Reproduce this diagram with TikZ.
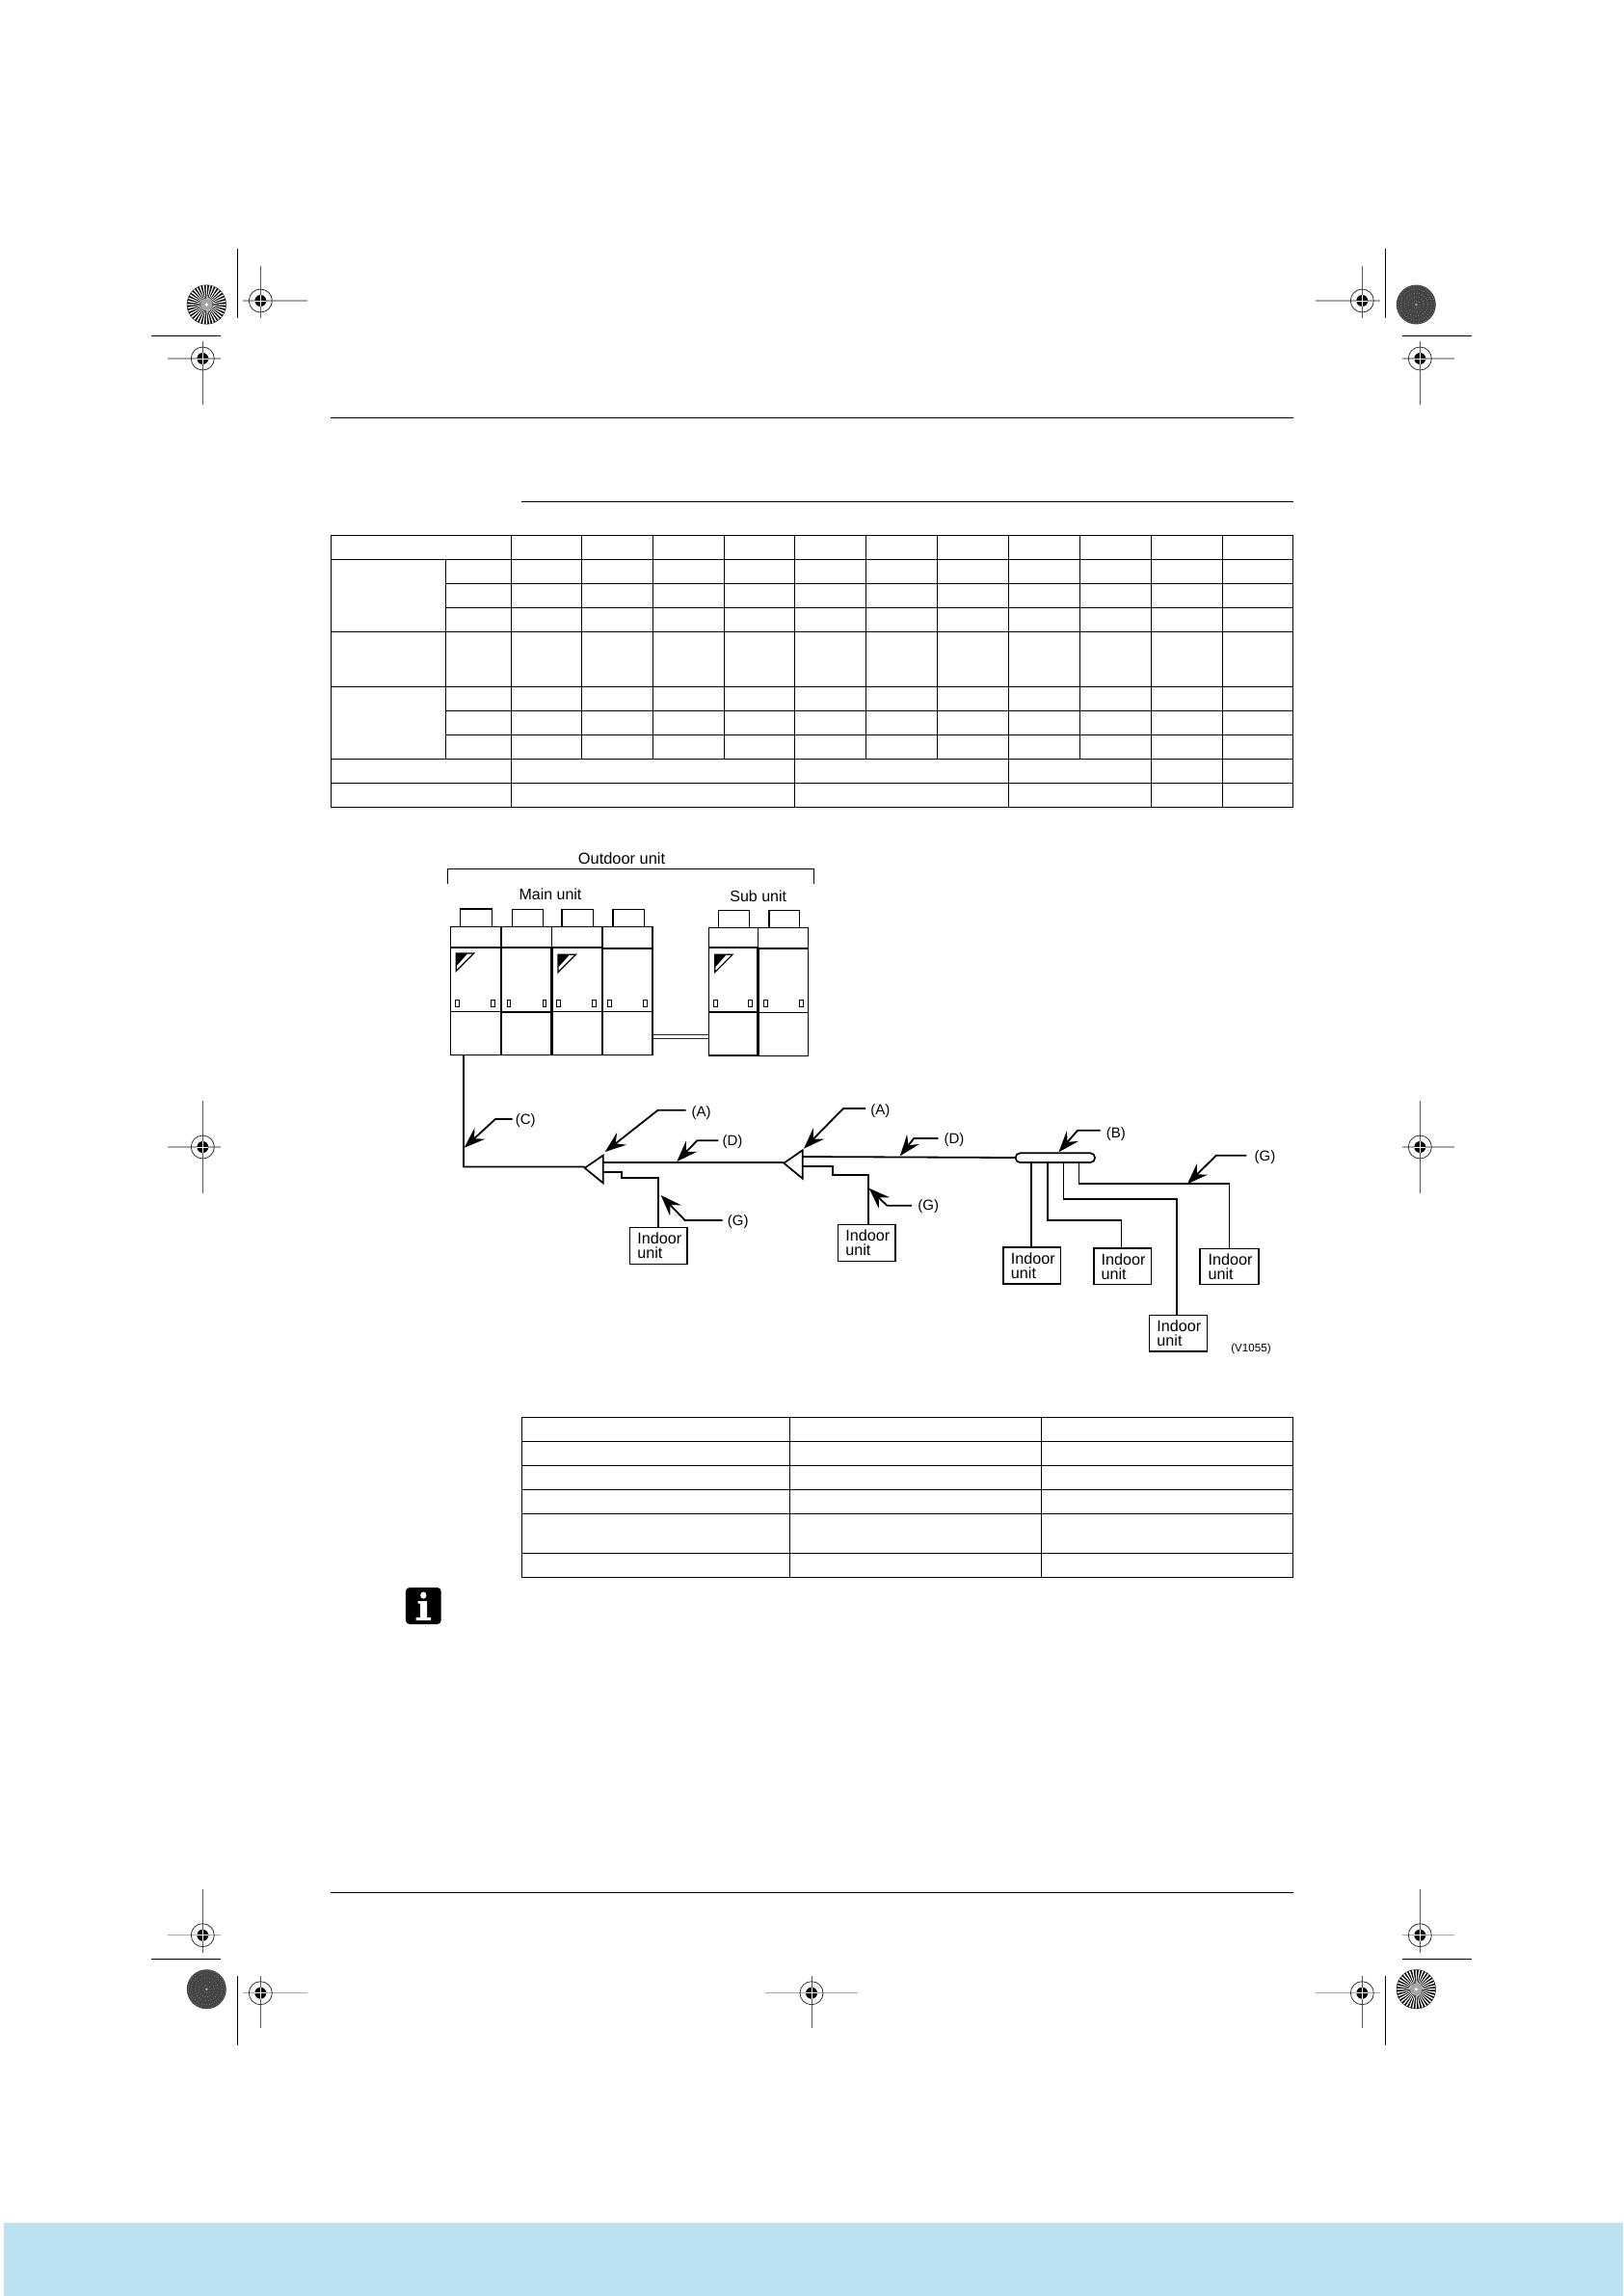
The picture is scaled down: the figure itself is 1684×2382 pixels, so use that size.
\documentclass[tikz,border=0pt]{standalone}
\usepackage{fontspec}
\setmainfont{Liberation Sans}
\usetikzlibrary{arrows.meta,calc}
\definecolor{bandblue}{HTML}{BAE3EF}
\definecolor{hairgray}{HTML}{A8A8A8}
\definecolor{vertgray}{HTML}{585858}
\definecolor{rosegray}{HTML}{444444}
\tikzset{
  rule/.style={line width=1.1pt,black},
  grid/.style={line width=1.1pt,black},
  cab/.style={line width=1.3pt,black,fill=white},
  cabthick/.style={line width=2.8pt,black},
  pipe/.style={line width=1.8pt,black,line join=miter},
  leader/.style={line width=1.8pt,black,-{Stealth[length=22pt,width=16pt,inset=8pt]}},
  iubox/.style={draw=black,line width=1.5pt,fill=white,inner sep=0pt},
  callout/.style={font=\fontsize{15}{15}\selectfont,inner sep=0pt},
  head/.style={font=\fontsize{16.4}{16}\selectfont,inner sep=0pt},
}
\newcommand{\iutxt}[1]{\hspace*{2pt}\raisebox{#1}{\parbox{46pt}{\raggedright\fontsize{16.2}{15}\selectfont Indoor\\unit}}}
% registration mark: centre, horizontal extent, vertical extent
\newcommand{\regmark}[6]{%
  \draw[hairgray,line width=1.1pt] (#3,#2) -- (#4,#2);
  \draw[vertgray,line width=1pt] (#1,#5) -- (#1,#6);
  \draw[black!80,line width=.8pt] (#1,#2) circle[radius=12];
  \fill[black] (#1,#2) circle[radius=6];
  \draw[white,line width=.9pt] (#1-6,#2) -- (#1+6,#2) (#1,#2-6) -- (#1,#2+6);
}
\newcommand{\rosestripe}[2]{%
  \fill[black] (#1,#2) circle[radius=20.5];
  \foreach \a in {0,10,...,350}
    \fill[white] (#1,#2) -- ($(#1,#2)+(\a-2.2:20)$) -- ($(#1,#2)+(\a+2.2:20)$) -- cycle;
  \fill[gray!70] (#1,#2) circle[radius=6];
  \fill[white] (#1,#2) circle[radius=1.8];
}
\newcommand{\rosedark}[2]{%
  \fill[rosegray] (#1,#2) circle[radius=20.5];
  \foreach \r in {4,8,12,16,19}
    \draw[gray!90,line width=.7pt,dotted] (#1,#2) circle[radius=\r];
  \fill[gray!75] (#1,#2) circle[radius=1.5];
}
\begin{document}
\begin{tikzpicture}[x=1pt,y=-1pt]
\useasboundingbox (0,0) rectangle (1684,2382);
\fill[white] (0,0) rectangle (1684,2382);
\fill[bandblue] (4,2306) rectangle (1684,2382);

% printer's marks
\rosestripe{214.3}{316}
\rosedark{1469.3}{316}
\rosedark{214.3}{2063.7}
\rosestripe{1469.3}{2063.7}
\regmark{270.3}{312}{252}{319}{276}{330}
\regmark{210.3}{372}{174}{229}{354}{420}
\regmark{1413.3}{312}{1365}{1432}{276}{330}
\regmark{1473.3}{372}{1455}{1509}{354}{420}
\regmark{210.3}{1190}{174}{229}{1142}{1238}
\regmark{1473.3}{1190}{1455}{1509}{1142}{1238}
\regmark{210.3}{2007.7}{174}{229}{1960}{2026}
\regmark{270.3}{2067.7}{252}{319}{2050}{2104}
\regmark{842}{2067.7}{794}{890}{2050}{2104}
\regmark{1473.3}{2007.7}{1455}{1509}{1960}{2026}
\regmark{1413.3}{2067.7}{1365}{1432}{2050}{2104}
\draw[rule] (246.5,258) -- (246.5,330);
\draw[rule] (157,348.5) -- (229,348.5);
\draw[rule] (1437.5,258) -- (1437.5,330);
\draw[rule] (1455,348.5) -- (1527,348.5);
\draw[rule] (157,2032.5) -- (229,2032.5);
\draw[rule] (246.5,2050) -- (246.5,2122);
\draw[rule] (1455,2032.5) -- (1527,2032.5);
\draw[rule] (1437.5,2050) -- (1437.5,2122);

% page rules
\draw[rule] (343.3,433.5) -- (1341.5,433.5);
\draw[rule] (541.3,520.5) -- (1341.5,520.5);
\draw[rule] (343.3,1963.5) -- (1341.5,1963.5);

% first table
\draw[grid] (343.5,555.5) rectangle (1341.5,837.5);
\foreach \y in {580.5,655.5,712.5,787.5,812.5} \draw[grid] (343.5,\y) -- (1341.5,\y);
\foreach \y in {605.5,630.5,737.5,762.5} \draw[grid] (462.5,\y) -- (1341.5,\y);
\draw[grid] (462.5,580.5) -- (462.5,787.5);
\draw[grid] (530.5,555.5) -- (530.5,837.5);
\foreach \x in {603.5,677.5,751.5,898.5,972.5,1120.5} \draw[grid] (\x,555.5) -- (\x,787.5);
\foreach \x in {824.5,1046.5,1194.5,1268.5} \draw[grid] (\x,555.5) -- (\x,837.5);

% second table
\draw[grid] (541.5,1470.5) rectangle (1341.5,1636.5);
\foreach \y in {1495.5,1520.5,1545.5,1570.5,1611.5} \draw[grid] (541.5,\y) -- (1341.5,\y);
\foreach \x in {819.5,1080.5} \draw[grid] (\x,1470.5) -- (\x,1636.5);

% info icon
\fill[black,rounded corners=4pt] (420.9,1647) rectangle (457.7,1685);
\fill[white] (439.3,1655) circle[x radius=3.2,y radius=3.6];
\fill[white] (433.5,1661) -- (443,1661) -- (443,1678) -- (447,1678) -- (447,1681) -- (431.5,1681) -- (431.5,1678) -- (436,1678) -- (436,1663.5) -- (433.5,1663.5) -- cycle;

% titles
\draw[line width=1.2pt] (464.3,917) -- (464.3,901.7) -- (844.3,901.7) -- (844.3,917);
\node[head] (tOut) at (645,890.7) {Outdoor unit};
\node[head,font=\fontsize{16}{16}\selectfont] (tMain) at (571,928) {Main unit};
\node[head,font=\fontsize{16}{16}\selectfont] (tSub) at (786.7,930) {Sub unit};

% outdoor cabinets, measured on a 3x grid
\begin{scope}[shift={(440,870)},x=.33333pt,y=-.33333pt]
  \foreach \xa/\xb/\ya/\yb/\yc/\yd/\bl/\br/\bt/\sa/\sb in
   {82/240/274/339/538/673/112/211/219/97/208,
    240/397/274/339/540/674/274/370/221/258/369,
    397/555/275/340/538/673/429/527/221/413/523,
    555/711/275/341/538/674/588/685/221/572/683,
    887/1040/278/340/540/675/916/1012/223/901/1010,
    1040/1196/278/343/541/676/1074/1169/223/1058/1168}{
    \draw[cab] (\bl,\ya) rectangle (\br,\bt);
    \draw[cab] (\xa,\ya) rectangle (\xb,\yd);
    \draw[line width=1.8pt] (\xa,\yb) -- (\xb,\yb);
    \draw[line width=1.3pt] (\xa,\yc) -- (\xb,\yc);
    \draw[line width=.9pt] (\sa,501) rectangle +(11,21);
    \draw[line width=.9pt] (\sb,501) rectangle +(11,21);
  }
  \foreach \x/\yt in {240/339,397/340,555/341,1040/343}
    \draw[cabthick] (\x,\yt) -- (\x,674);
  \foreach \lx/\ly in {100/357,417/361,905/361}{
    \draw[line width=1.2pt,fill=white] (\lx,\ly) -- (\lx+55,\ly) -- (\lx,\ly+55) -- cycle;
    \fill[black] (\lx,\ly) -- (\lx+36,\ly) -- (\lx+3,\ly+37) -- (\lx,\ly+37) -- cycle;
  }
  \coordinate (uA) at (711,610);
  \coordinate (uB) at (887,610);
  \coordinate (uC) at (711,622);
  \coordinate (uD) at (887,622);
  \coordinate (uOut) at (123,673);
\end{scope}
\draw[line width=.9pt,black!85] (uA) -- (uB);
\draw[line width=.9pt,black!85] (uC) -- (uD);

% refnet joints
\coordinate (ja1) at (606.7,1211.7); \coordinate (ja2) at (625.7,1198.7); \coordinate (ja3) at (625.7,1227.3);
\coordinate (jb1) at (813.3,1206.7); \coordinate (jb2) at (832.7,1193.3); \coordinate (jb3) at (832.7,1222.7);
\draw[line width=1.7pt,line join=miter] (ja1) -- (ja2) -- (ja3) -- cycle;
\draw[line width=1.7pt,line join=miter] (jb1) -- (jb2) -- (jb3) -- cycle;
\node[draw=black,line width=1.7pt,fill=white,rounded corners=4.6pt,minimum width=82.3pt,minimum height=9.7pt,inner sep=0pt] (hdr) at (1094.85,1201.15) {};

% indoor units
\node[iubox,minimum width=59.3pt,minimum height=37.6pt] (iu1) at (683.35,1292.5) {\iutxt{-3pt}};
\node[iubox,minimum width=59.3pt,minimum height=37.6pt] (iu2) at (899.35,1289.5) {\iutxt{-3pt}};
\node[iubox,minimum width=59.4pt,minimum height=38pt] (iu3) at (1070.9,1313) {\iutxt{-4pt}};
\node[iubox,minimum width=59.4pt,minimum height=37.7pt] (iu4) at (1164.6,1313.85) {\iutxt{-4pt}};
\node[iubox,minimum width=59.8pt,minimum height=37.7pt] (iu5) at (1222.4,1383.15) {\iutxt{-4pt}};
\node[iubox,minimum width=60.9pt,minimum height=37pt] (iu6) at (1275.55,1314.2) {\iutxt{-5.5pt}};

% pipes
\coordinate (cBend) at (481,1210.5);
\draw[pipe] (uOut) -- (cBend) -- (cBend -| ja1);
\coordinate (d1a) at (625.7,1206.3); \coordinate (d1b) at (813.3,1206.3);
\draw[pipe] (d1a) -- (d1b);
\coordinate (d2a) at (832.7,1200); \coordinate (d2b) at (1053.7,1201);
\draw[pipe] (d2a) -- (d2b);
\coordinate (b1a) at (625.7,1216.3); \coordinate (b1b) at (645.3,1216.3); \coordinate (b1c) at (645.3,1222); \coordinate (b1d) at (682.7,1222);
\draw[pipe] (b1a) -- (b1b) -- (b1c) -- (b1d) -- (b1d |- iu1.north);
\coordinate (b2a) at (832.7,1210.3); \coordinate (b2b) at (863.7,1210.3); \coordinate (b2c) at (863.7,1218.7); \coordinate (b2d) at (901,1218.7);
\draw[pipe] (b2a) -- (b2b) -- (b2c) -- (b2d) -- (b2d |- iu2.north);
\coordinate (ha) at (1069.8,1206);
\draw[pipe] (ha) -- (ha |- iu3.north);
\coordinate (hb) at (1087.3,1206); \coordinate (hb2) at (1087.3,1266); \coordinate (hb3) at (1163.5,1266);
\draw[pipe] (hb) -- (hb2) -- (hb3) -- (hb3 |- iu4.north);
\coordinate (hc) at (1103.4,1206); \coordinate (hc2) at (1103.4,1244); \coordinate (hc3) at (1220.8,1244);
\draw[pipe] (hc) -- (hc2) -- (hc3) -- (hc3 |- iu5.north);
\coordinate (hd) at (1119.5,1206); \coordinate (hd2) at (1119.5,1228.3); \coordinate (hd3) at (1275.5,1228.3);
\draw[pipe] (hd) -- (hd2) -- (hd3) -- (hd3 |- iu6.north);

% callouts
\node[callout] (lC) at (545.3,1162.5) {(C)};
\node[callout] (lA1) at (727.7,1154.2) {(A)};
\node[callout] (lD1) at (760,1184.5) {(D)};
\node[callout] (lG1) at (765.7,1268) {(G)};
\node[callout] (lA2) at (913.3,1152.2) {(A)};
\node[callout] (lD2) at (990,1183) {(D)};
\node[callout] (lB) at (1157.8,1176.2) {(B)};
\node[callout] (lG2) at (963.2,1251.5) {(G)};
\node[callout] (lG3) at (1312.4,1200.5) {(G)};
\node[font=\fontsize{11.6}{12}\selectfont,inner sep=0pt] (vref) at (1298,1399.3) {(V1055)};

\coordinate (tC) at (481.7,1190.7); \coordinate (kC) at (514,1161);
\coordinate (tA1) at (627.7,1195); \coordinate (kA1) at (682.7,1151.7);
\coordinate (tD1) at (702.3,1205); \coordinate (kD1) at (723.3,1183.3);
\coordinate (tG1) at (685.7,1240); \coordinate (kG1) at (710.7,1266);
\coordinate (tA2) at (834,1191.7); \coordinate (kA2) at (875,1150);
\coordinate (tD2) at (933.8,1199.3); \coordinate (kD2) at (948.2,1181);
\coordinate (tB) at (1098.4,1195.3); \coordinate (kB) at (1118.1,1172.7);
\coordinate (tG2) at (901.6,1232.7); \coordinate (kG2) at (920.3,1250.7);
\coordinate (tG3) at (1231.9,1228.3); \coordinate (kG3) at (1261.9,1198.7);
\draw[leader] (lC.west |- kC) ++(-3,0) -- (kC) -- (tC);
\draw[leader] (lA1.west |- kA1) ++(-6,0) -- (kA1) -- (tA1);
\draw[leader] (lD1.west |- kD1) ++(-4,0) -- (kD1) -- (tD1);
\draw[leader] (lG1.west |- kG1) ++(-5,0) -- (kG1) -- (tG1);
\draw[leader] (lA2.west |- kA2) ++(-5,0) -- (kA2) -- (tA2);
\draw[leader] (lD2.west |- kD2) ++(-6,0) -- (kD2) -- (tD2);
\draw[leader] (lB.west |- kB) ++(-6,0) -- (kB) -- (tB);
\draw[leader] (lG2.west |- kG2) ++(-6,0) -- (kG2) -- (tG2);
\draw[leader] (lG3.west |- kG3) ++(-8,0) -- (kG3) -- (tG3);
\end{tikzpicture}
\end{document}
